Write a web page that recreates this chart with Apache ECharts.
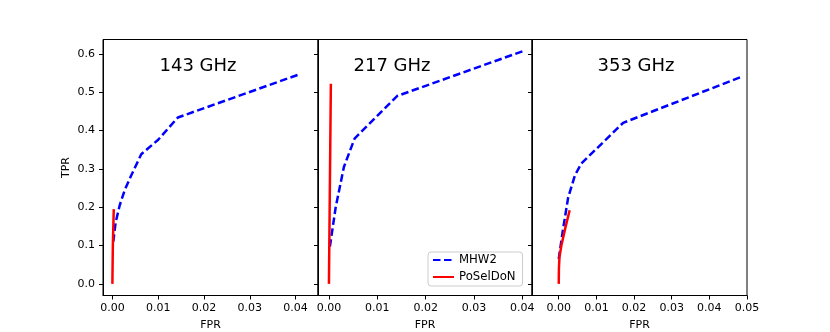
<!DOCTYPE html>
<html>
<head>
<meta charset="utf-8">
<script src="https://cdn.jsdelivr.net/npm/echarts@6/dist/echarts.min.js"></script>
<style>
  html, body { margin: 0; padding: 0; background: #fff; }
  #chart { width: 830px; height: 332px; }
</style>
</head>
<body>
<div id="chart"></div>
<script>
// panel titles
const panels = ['143 GHz', '217 GHz', '353 GHz'];

// MHW2 ROC curves [FPR, TPR]
const mhw143 = [[0.0002, 0.11], [0.0007, 0.16], [0.0016, 0.205], [0.0027, 0.245], [0.004, 0.28],
  [0.0063, 0.338], [0.0100, 0.376], [0.0143, 0.434], [0.0407, 0.546]];
const mhw217 = [[0.0002, 0.097], [0.0014, 0.2], [0.0031, 0.305], [0.0053, 0.379], [0.0141, 0.49],
  [0.0401, 0.607]];
const mhw353 = [[0.0, 0.065], [0.0011, 0.14], [0.0025, 0.225], [0.0043, 0.283], [0.006, 0.314],
  [0.0171, 0.42], [0.0482, 0.539]];

// PoSelDoN ROC curves [FPR, TPR]
const pos143 = [[0, 0], [0.0001, 0.1], [0.0003, 0.195]];
const pos217 = [[0, 0], [0.0002, 0.26], [0.0004, 0.522]];
const pos353 = [[0, 0], [0.00005, 0.04], [0.0002, 0.07], [0.0007, 0.1], [0.0018, 0.148], [0.0029, 0.192]];

// tick labels
const xTicks = [0, 0.01, 0.02, 0.03, 0.04];
const xTicks353 = [0, 0.01, 0.02, 0.03, 0.04, 0.05];
const yTicks = [0, 0.1, 0.2, 0.3, 0.4, 0.5, 0.6];

const mhwData = [mhw143, mhw217, mhw353];
const posData = [pos143, pos217, pos353];
const xRange = [[-0.00205, 0.0449], [-0.00226, 0.0420], [-0.0071, 0.05]];

const font = 'DejaVu Sans';
const gridLeft = [103, 318, 532];
const gridWidth = [215, 214, 215];
const titleX = [198, 392, 636];

let myChart = echarts.init(document.getElementById('chart'), null, { renderer: 'canvas' });

const grids = [], xAxes = [], yAxes = [], series = [], texts = [];
for (let i = 0; i < 3; i++) {
  grids.push({
    left: gridLeft[i], width: gridWidth[i], top: 39.5, height: 256,
    outerBoundsMode: 'none', containLabel: false,
    show: true, borderColor: '#000', borderWidth: 1, backgroundColor: 'transparent'
  });
  const ticks = i === 2 ? xTicks353 : xTicks;
  xAxes.push({
    type: 'value', gridIndex: i, min: xRange[i][0], max: xRange[i][1],
    name: 'FPR', nameLocation: 'middle', nameGap: 24,
    nameTextStyle: { fontFamily: font, fontSize: 11, color: '#000' },
    axisLine: { show: true, onZero: false, lineStyle: { color: '#000', width: 1 } },
    axisTick: { show: true, inside: false, length: 4, customValues: ticks, lineStyle: { color: '#000' } },
    axisLabel: { show: true, margin: 7, customValues: ticks, fontFamily: font, fontSize: 11, color: '#000',
      formatter: v => v.toFixed(2) },
    splitLine: { show: false }
  });
  yAxes.push({
    type: 'value', gridIndex: i, min: -0.0303, max: 0.6374,
    name: i === 0 ? 'TPR' : '', nameLocation: 'middle', nameGap: 31,
    nameTextStyle: { fontFamily: font, fontSize: 11, color: '#000' },
    axisLine: { show: true, onZero: false, lineStyle: { color: '#000', width: 1 } },
    axisTick: { show: true, inside: false, length: 4, customValues: yTicks, lineStyle: { color: '#000' } },
    axisLabel: { show: i === 0, margin: 8, customValues: yTicks, fontFamily: font, fontSize: 11, color: '#000',
      formatter: v => v.toFixed(1) },
    splitLine: { show: false }
  });
  series.push({
    name: 'MHW2', type: 'line', xAxisIndex: i, yAxisIndex: i, data: mhwData[i],
    symbol: 'none', color: '#0000ff', silent: true,
    lineStyle: { color: '#0000ff', width: 2.5, type: [7.5, 3.5] }
  });
  series.push({
    name: 'PoSelDoN', type: 'line', xAxisIndex: i, yAxisIndex: i, data: posData[i],
    symbol: 'none', color: '#ff0000', silent: true,
    lineStyle: { color: '#ff0000', width: 2.5 }
  });
  texts.push({
    type: 'text', x: titleX[i], y: 66,
    style: { text: panels[i], fontFamily: font, fontSize: 18, fill: '#000',
      textAlign: 'center', textVerticalAlign: 'middle' }
  });
}

myChart.setOption({
  animation: false,
  backgroundColor: '#fff',
  grid: grids,
  xAxis: xAxes,
  yAxis: yAxes,
  series: series,
  graphic: texts,
  legend: {
    data: ['MHW2', 'PoSelDoN'],
    orient: 'vertical', left: 428, top: 252,
    padding: [2, 7, 3, 4], itemGap: 5, itemWidth: 21, itemHeight: 13, itemTextGap: 10,
    itemStyle: { opacity: 0 },   // hide the circle, keep the line
    backgroundColor: '#fff', borderColor: '#ccc', borderWidth: 1, borderRadius: 3,
    textStyle: { fontFamily: font, fontSize: 11.7, color: '#000' }
  }
});
</script>
</body>
</html>
